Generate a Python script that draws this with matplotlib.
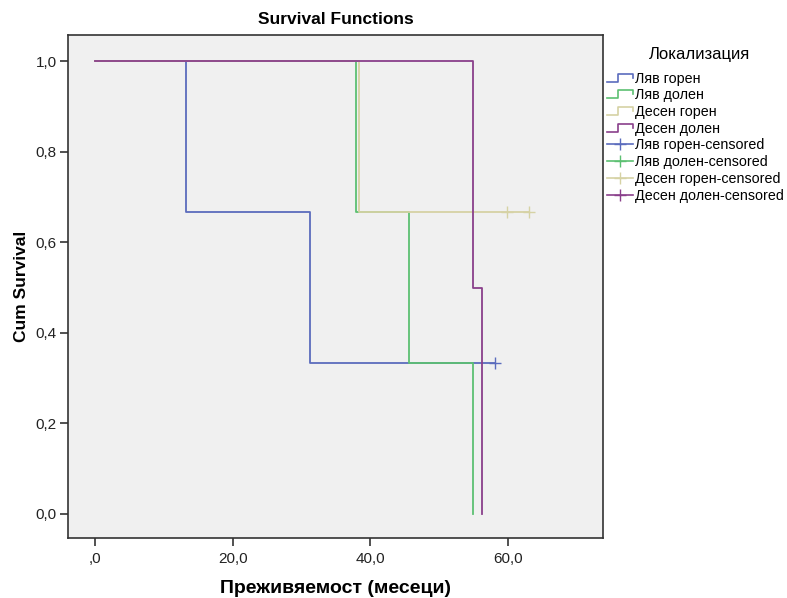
import matplotlib
matplotlib.use("Agg")
import matplotlib.pyplot as plt
from matplotlib.lines import Line2D
from matplotlib.legend_handler import HandlerBase
from matplotlib.ticker import FuncFormatter

plt.rcParams['font.family'] = ['Liberation Sans', 'DejaVu Sans']

groups = ["Ляв горен", "Ляв долен", "Десен горен", "Десен долен"]
colors = ["#5b6cbd", "#5cc072", "#d6d2a4", "#8a3f8b"]

blue_t = [0, 13.2, 31.2, 58.2]
blue_s = [1.0, 0.667, 0.333, 0.333]
green_t = [0, 37.9, 45.7, 54.9]
green_s = [1.0, 0.667, 0.333, 0.0]
beige_t = [0, 38.4, 63.1]
beige_s = [1.0, 0.667, 0.667]
purple_t = [0, 55.0, 56.3]
purple_s = [1.0, 0.5, 0.0]

cens_blue_t = [58.2]
cens_blue_s = [0.333]
cens_green_t = []
cens_green_s = []
cens_beige_t = [59.9, 63.1]
cens_beige_s = [0.667, 0.667]
cens_purple_t = []
cens_purple_s = []

xticks = [0, 20, 40, 60]
yticks = [0.0, 0.2, 0.4, 0.6, 0.8, 1.0]

curves = [(blue_t, blue_s), (green_t, green_s), (beige_t, beige_s), (purple_t, purple_s)]
cens = [(cens_blue_t, cens_blue_s), (cens_green_t, cens_green_s),
        (cens_beige_t, cens_beige_s), (cens_purple_t, cens_purple_s)]

fig = plt.figure(figsize=(7.87, 5.98), dpi=100)
ax = fig.add_axes([68/787, 1-538/598, (603.3-68)/787, (538-35.3)/598])
ax.set_facecolor("#f0f0f0")

for (t, s), c in zip(curves, colors):
    ax.step(t, s, where='post', color=c, lw=1.3)
for (t, s), c in zip(cens, colors):
    if t:
        ax.plot(t, s, ls='none', marker='+', ms=8, mew=1.0, color=c)

ax.set_xlim(-3.97, 73.9)
ax.set_ylim(-0.053, 1.057)
ax.set_xticks(xticks)
ax.set_yticks(yticks)

ax.xaxis.set_major_formatter(FuncFormatter(lambda v, p: ",0" if abs(v) < 1e-9 else f"{v:.1f}".replace('.', ',')))
ax.yaxis.set_major_formatter(FuncFormatter(lambda v, p: f"{v:.1f}".replace('.', ',')))
ax.tick_params(direction='out', length=6, width=1.2, color='#333333', labelsize=11, labelcolor='#222222')
ax.tick_params(axis='x', pad=4)
ax.tick_params(axis='y', pad=2)
for sp in ax.spines.values():
    sp.set_color('#333333')
    sp.set_linewidth(1.2)

ax.set_title("Survival Functions", fontsize=12.5, fontweight='bold', pad=8)
ax.set_xlabel("Преживяемост (месеци)", fontsize=14, fontweight='bold', labelpad=10)
ax.set_ylabel("Cum Survival", fontsize=12.5, fontweight='bold', labelpad=5)


class StepHandler(HandlerBase):
    def create_artists(self, legend, orig_handle, xdescent, ydescent, width, height, fontsize, trans):
        x0, y0 = -xdescent, -ydescent
        xs = [x0, x0 + 0.45*width, x0 + 0.45*width, x0 + width, x0 + width]
        ys = [y0 + 0.1*height, y0 + 0.1*height, y0 + 0.9*height, y0 + 0.9*height, y0 + 0.5*height]
        ln = Line2D(xs, ys, color=orig_handle.get_color(), lw=1.2, transform=trans)
        return [ln]


handles = []
labels = []
for g, c in zip(groups, colors):
    handles.append(Line2D([], [], color=c))
    labels.append(g)
for g, c in zip(groups, colors):
    handles.append(Line2D([], [], color=c, lw=1.2, marker='+', ms=8, mew=1.0))
    labels.append(g + "-censored")

hmap = {h: StepHandler() for h in handles[:4]}
leg = fig.legend(handles, labels, handler_map=hmap, loc='upper left',
                 bbox_to_anchor=(604/787, 1-44/598), frameon=False,
                 title="Локализация", title_fontsize=12, fontsize=10.3,
                 handlelength=1.8, handletextpad=0.2, labelspacing=0.19,
                 borderaxespad=0, borderpad=0.2)
leg._legend_box.align = "left"
leg.get_title().set_position((42, 0))
leg._legend_box.sep = 7

fig.savefig("out.png", dpi=100, facecolor='white')
